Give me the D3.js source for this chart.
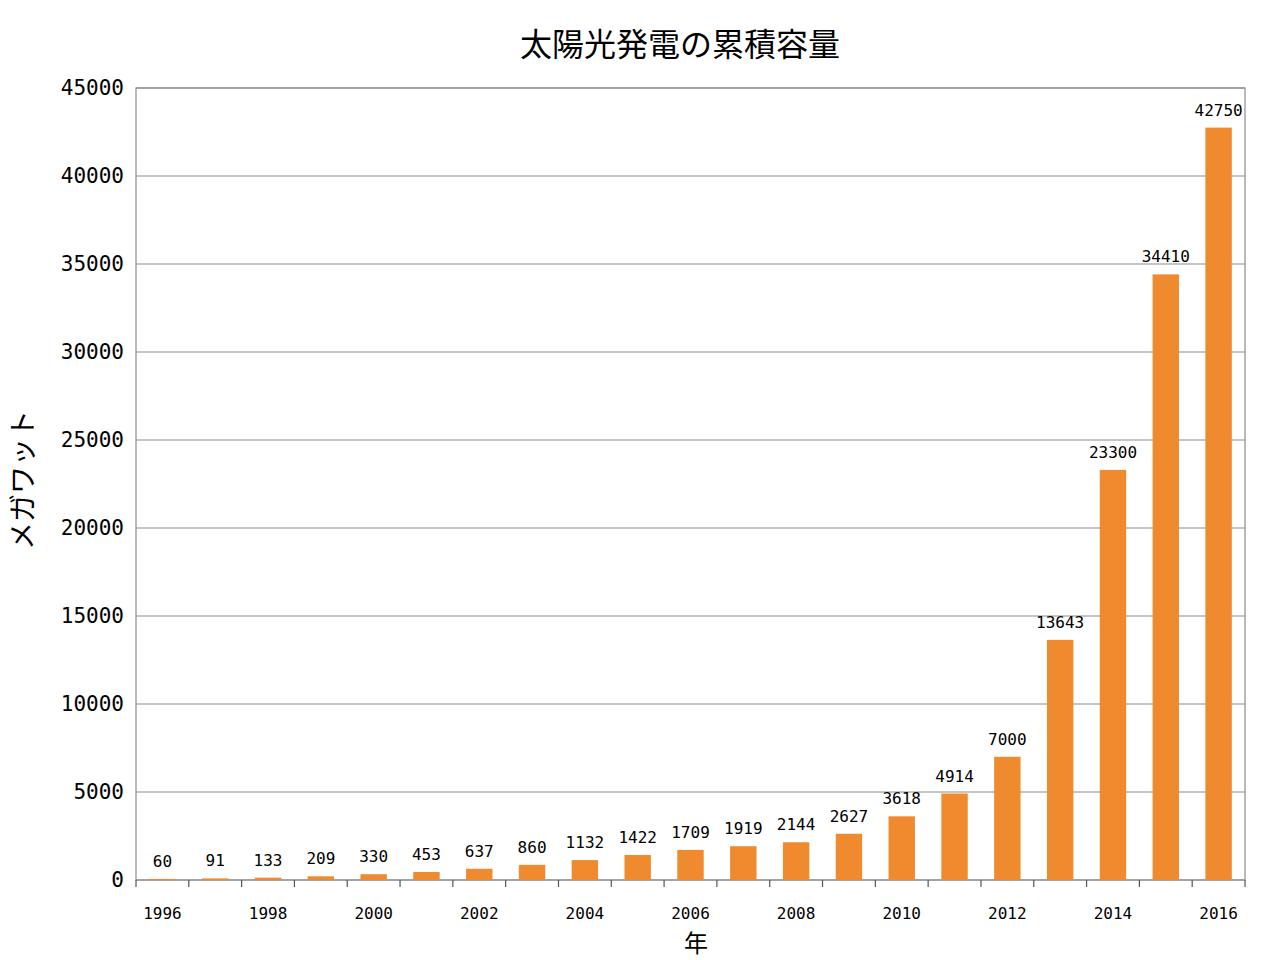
<!DOCTYPE html>
<html><head><meta charset="utf-8">
<script src="https://cdn.jsdelivr.net/npm/d3@7"></script>
<style>body{margin:0;background:#fff}</style>
</head><body><svg width="1280" height="960"></svg>
<script>
const years = d3.range(1996, 2017);
const capacity = [60, 91, 133, 209, 330, 453, 637, 860, 1132, 1422, 1709, 1919, 2144, 2627, 3618, 4914, 7000, 13643, 23300, 34410, 42750];
const yTicks = [0, 5000, 10000, 15000, 20000, 25000, 30000, 35000, 40000, 45000];

const svg = d3.select("svg");
const plotLeft = 136, plotRight = 1245, plotTop = 88, plotBottom = 880;
const mono = "'DejaVu Sans Mono', monospace";
const cjk = "'Noto Sans CJK JP', sans-serif";

const x = d3.scaleBand().domain(years).range([plotLeft, plotRight]).paddingInner(0.5).paddingOuter(0.25);
const y = d3.scaleLinear().domain([0, 45000]).range([plotBottom, plotTop]);

// grid lines
svg.append("g").selectAll("line").data(yTicks).enter().append("line")
  .attr("x1", plotLeft).attr("x2", plotRight)
  .attr("y1", d => y(d)).attr("y2", d => y(d))
  .attr("stroke", "#8c8c8c").attr("stroke-width", 1.2);

// frame
svg.append("rect").attr("x", plotLeft).attr("y", plotTop)
  .attr("width", plotRight - plotLeft).attr("height", plotBottom - plotTop)
  .attr("fill", "none").attr("stroke", "#8c8c8c").attr("stroke-width", 1.2);

// bars
svg.append("g").selectAll("rect").data(years).enter().append("rect")
  .attr("x", d => x(d)).attr("width", x.bandwidth())
  .attr("y", (d, i) => y(capacity[i]))
  .attr("height", (d, i) => plotBottom - y(capacity[i]))
  .attr("fill", "#f08a2e");

// value labels
svg.append("g").selectAll("text").data(years).enter().append("text")
  .attr("x", d => x(d) + x.bandwidth() / 2)
  .attr("y", (d, i) => y(capacity[i]) - 12)
  .attr("text-anchor", "middle")
  .attr("font-family", mono).attr("font-size", 16)
  .text((d, i) => capacity[i]);

// y tick labels
svg.append("g").selectAll("text").data(yTicks).enter().append("text")
  .attr("x", plotLeft - 12).attr("y", d => y(d) + 7)
  .attr("text-anchor", "end")
  .attr("font-family", mono).attr("font-size", 21)
  .text(d => d);

// x ticks at band edges
const step = x.step();
const edges = d3.range(0, years.length + 1).map(i => plotLeft + i * step);
svg.append("g").selectAll("line").data(edges).enter().append("line")
  .attr("x1", d => d).attr("x2", d => d)
  .attr("y1", plotBottom).attr("y2", plotBottom + 7)
  .attr("stroke", "#555").attr("stroke-width", 1.2);

// x labels every other year
svg.append("g").selectAll("text").data(years.filter(d => d % 2 === 0)).enter().append("text")
  .attr("x", d => x(d) + x.bandwidth() / 2)
  .attr("y", 919)
  .attr("text-anchor", "middle")
  .attr("font-family", mono).attr("font-size", 16)
  .text(d => d);

// titles
svg.append("text").attr("x", 680).attr("y", 56).attr("text-anchor", "middle")
  .attr("font-family", cjk).attr("font-size", 32).text("太陽光発電の累積容量");
svg.append("text").attr("x", 696).attr("y", 952).attr("text-anchor", "middle")
  .attr("font-family", cjk).attr("font-size", 24).text("年");
svg.append("text").attr("transform", "translate(33,480) rotate(-90)").attr("text-anchor", "middle")
  .attr("font-family", cjk).attr("font-size", 28).text("メガワット");
</script></body></html>
